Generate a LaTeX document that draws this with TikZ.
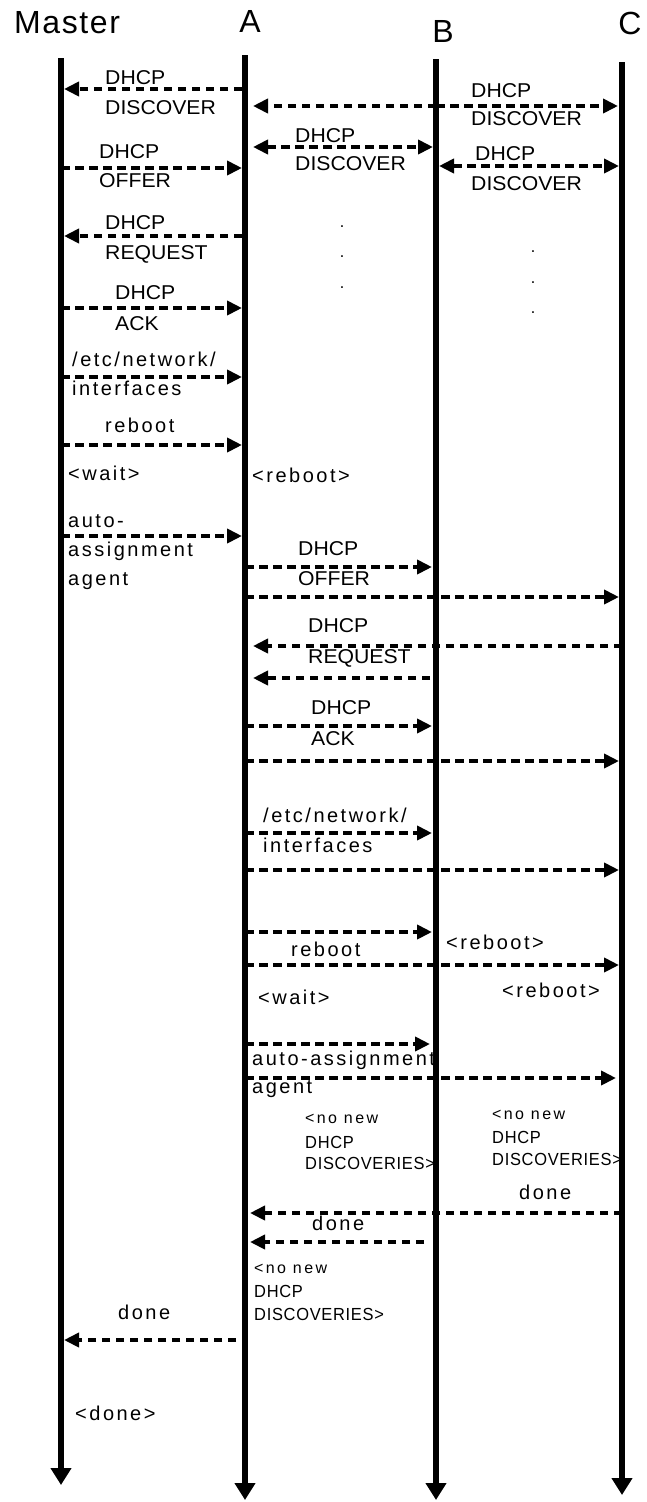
\documentclass[tikz,border=0pt]{standalone}
\usepackage{fontspec}
\setmainfont{Liberation Sans}
\newfontfamily\lblfont[FakeStretch=1.06]{Liberation Sans}
\newfontfamily\spfont[LetterSpace=12.5]{Liberation Sans}
\newfontfamily\hdfont[LetterSpace=5]{Liberation Sans}
\newfontfamily\smfont[FakeStretch=0.94,LetterSpace=4]{Liberation Sans}
\newfontfamily\nnfont[LetterSpace=15]{Liberation Sans}
\usetikzlibrary{arrows.meta}
\tikzset{
  lbl/.style={font=\lblfont\fontsize{20}{24}\selectfont, anchor=base west, inner sep=0pt},
  sp/.style={font=\spfont\fontsize{20}{24}\selectfont, anchor=base west, inner sep=0pt},
  sm/.style={font=\smfont\fontsize{17.5}{20}\selectfont, anchor=base west, inner sep=0pt},
  nn/.style={font=\nnfont\fontsize{16}{20}\selectfont, anchor=base west, inner sep=0pt},
  hd/.style={font=\hdfont\fontsize{32}{36}\selectfont, anchor=base, inner sep=0pt},
  dotmark/.style={font=\smfont\fontsize{17}{20}\selectfont, anchor=base, inner sep=0pt},
  msg/.style={line width=4pt, dash pattern=on 8.5pt off 5.5pt, -{Triangle[length=15pt,width=14pt]}},
  dmsg/.style={line width=4pt, dash pattern=on 8.5pt off 5.5pt, {Triangle[length=15pt,width=14pt]}-{Triangle[length=15pt,width=14pt]}},
  life/.style={line width=6pt, -{Triangle[length=17pt,width=20pt]}}
}
\begin{document}
\begin{tikzpicture}[x=1pt,y=-1pt]
\useasboundingbox (0,0) rectangle (647,1502);
% headers
\node[hd, anchor=base west] (hM) at (14,33) {Master};
\node[hd] (hA) at (250,32) {A};
\node[hd] (hB) at (443,42) {B};
\node[hd] (hC) at (630,34) {C};
% big labels
\node[lbl] (t1a) at (105,84) {DHCP};
\node[lbl] (t1b) at (105,114) {DISCOVER};
\node[lbl] (t2a) at (471,97) {DHCP};
\node[lbl] (t2b) at (471,125) {DISCOVER};
\node[lbl] (t3a) at (295,142) {DHCP};
\node[lbl] (t3b) at (295,170) {DISCOVER};
\node[lbl] (t4a) at (99,158) {DHCP};
\node[lbl] (t4b) at (99,187) {OFFER};
\node[lbl] (t5a) at (475,160) {DHCP};
\node[lbl] (t5b) at (471,190) {DISCOVER};
\node[lbl] (t6a) at (105,229) {DHCP};
\node[lbl] (t6b) at (105,259) {REQUEST};
\node[lbl] (t8a) at (115,299) {DHCP};
\node[lbl] (t8b) at (115,330) {ACK};
\node[lbl] (t13a) at (298,555) {DHCP};
\node[lbl] (t13b) at (298,585) {OFFER};
\node[lbl] (t15a) at (308,632) {DHCP};
\node[lbl] (t15b) at (308,663) {REQUEST};
\node[lbl] (t17a) at (311,714) {DHCP};
\node[lbl] (t17b) at (311,745) {ACK};
% dots
\node[dotmark] (d1) at (342,227) {.};
\node[dotmark] (d2) at (342,257) {.};
\node[dotmark] (d3) at (342,288) {.};
\node[dotmark] (d4) at (533,252) {.};
\node[dotmark] (d5) at (533,283) {.};
\node[dotmark] (d6) at (533,313) {.};
% spaced labels
\node[sp] (s1a) at (72,366) {/etc/network/};
\node[sp] (s1b) at (72,395) {interfaces};
\node[sp] (s2) at (105,432) {reboot};
\node[sp] (s3) at (68,480) {<wait>};
\node[sp] (s4) at (252,482) {<reboot>};
\node[sp] (s5a) at (68,527) {auto-};
\node[sp] (s5b) at (68,556) {assignment};
\node[sp] (s5c) at (68,585) {agent};
\node[sp] (s6a) at (263,822) {/etc/network/};
\node[sp] (s6b) at (263,852) {interfaces};
\node[sp] (s7) at (291,956) {reboot};
\node[sp] (s8) at (446,949) {<reboot>};
\node[sp] (s9) at (502,997) {<reboot>};
\node[sp] (s10) at (258,1004) {<wait>};
\node[sp] (s11a) at (252,1065) {auto-assignment};
\node[sp] (s11b) at (252,1093) {agent};
\node[sp] (s12) at (519,1199) {done};
\node[sp] (s13) at (312,1230) {done};
\node[sp] (s14) at (118,1319) {done};
\node[sp] (s15) at (75,1420) {<done>};
% small labels
\node[nn] (n1a) at (305,1123) {<no new};
\node[sm] (n1b) at (305,1148) {DHCP};
\node[sm] (n1c) at (305,1169) {DISCOVERIES>};
\node[nn] (n2a) at (492,1119) {<no new};
\node[sm] (n2b) at (492,1143) {DHCP};
\node[sm] (n2c) at (492,1165) {DISCOVERIES>};
\node[nn] (n3a) at (254,1273) {<no new};
\node[sm] (n3b) at (254,1297) {DHCP};
\node[sm] (n3c) at (254,1320) {DISCOVERIES>};
% lifeline coordinates
\coordinate (Mt) at (61,58);  \coordinate (Mb) at (61,1485);
\coordinate (At) at (245,55); \coordinate (Ab) at (245,1500);
\coordinate (Bt) at (436,59); \coordinate (Bb) at (436,1500);
\coordinate (Ct) at (622,62); \coordinate (Cb) at (622,1495);
% message end points
\coordinate (m1s) at (242,89);  \coordinate (m1e) at (64,89);
\coordinate (m2s) at (436,106); \coordinate (m2a) at (253,106); \coordinate (m2c) at (618,106);
\coordinate (m3s) at (253,147); \coordinate (m3e) at (433,147);
\coordinate (m4s) at (61,168);  \coordinate (m4e) at (242,168);
\coordinate (m5s) at (439,166); \coordinate (m5e) at (619,166);
\coordinate (m6s) at (242,236); \coordinate (m6e) at (64,236);
\coordinate (m8s) at (61,308);  \coordinate (m8e) at (242,308);
\coordinate (m9s) at (61,377);  \coordinate (m9e) at (242,377);
\coordinate (m10s) at (61,445); \coordinate (m10e) at (242,445);
\coordinate (m12s) at (61,536); \coordinate (m12e) at (242,536);
\coordinate (m13s) at (245,567); \coordinate (m13e) at (432,567);
\coordinate (m14s) at (245,597); \coordinate (m14e) at (619,597);
\coordinate (m15s) at (622,646); \coordinate (m15e) at (253,646);
\coordinate (m16s) at (430,678); \coordinate (m16e) at (253,678);
\coordinate (m17s) at (245,726); \coordinate (m17e) at (432,726);
\coordinate (m18s) at (245,761); \coordinate (m18e) at (619,761);
\coordinate (m19s) at (245,833); \coordinate (m19e) at (432,833);
\coordinate (m20s) at (245,870); \coordinate (m20e) at (619,870);
\coordinate (m21s) at (245,932); \coordinate (m21e) at (432,932);
\coordinate (m22s) at (245,965); \coordinate (m22e) at (619,965);
\coordinate (m24s) at (245,1044); \coordinate (m24e) at (430,1044);
\coordinate (m25s) at (245,1078); \coordinate (m25e) at (616,1078);
\coordinate (m26s) at (622,1213); \coordinate (m26e) at (250,1213);
\coordinate (m27s) at (424,1242); \coordinate (m27e) at (250,1242);
\coordinate (m28s) at (236,1340); \coordinate (m28e) at (64,1340);
% messages
\draw[msg] (m1s) -- (m1e);
\draw[msg] (m2s) -- (m2a);
\draw[msg] (m2s) -- (m2c);
\draw[dmsg] (m3s) -- (m3e);
\draw[msg] (m4s) -- (m4e);
\draw[dmsg] (m5s) -- (m5e);
\draw[msg] (m6s) -- (m6e);
\draw[msg] (m8s) -- (m8e);
\draw[msg] (m9s) -- (m9e);
\draw[msg] (m10s) -- (m10e);
\draw[msg] (m12s) -- (m12e);
\draw[msg] (m13s) -- (m13e);
\draw[msg] (m14s) -- (m14e);
\draw[msg] (m15s) -- (m15e);
\draw[msg] (m16s) -- (m16e);
\draw[msg] (m17s) -- (m17e);
\draw[msg] (m18s) -- (m18e);
\draw[msg] (m19s) -- (m19e);
\draw[msg] (m20s) -- (m20e);
\draw[msg] (m21s) -- (m21e);
\draw[msg] (m22s) -- (m22e);
\draw[msg] (m24s) -- (m24e);
\draw[msg] (m25s) -- (m25e);
\draw[msg] (m26s) -- (m26e);
\draw[msg] (m27s) -- (m27e);
\draw[msg] (m28s) -- (m28e);
% lifelines
\draw[life] (Mt) -- (Mb);
\draw[life] (At) -- (Ab);
\draw[life] (Bt) -- (Bb);
\draw[life] (Ct) -- (Cb);
\end{tikzpicture}
\end{document}
